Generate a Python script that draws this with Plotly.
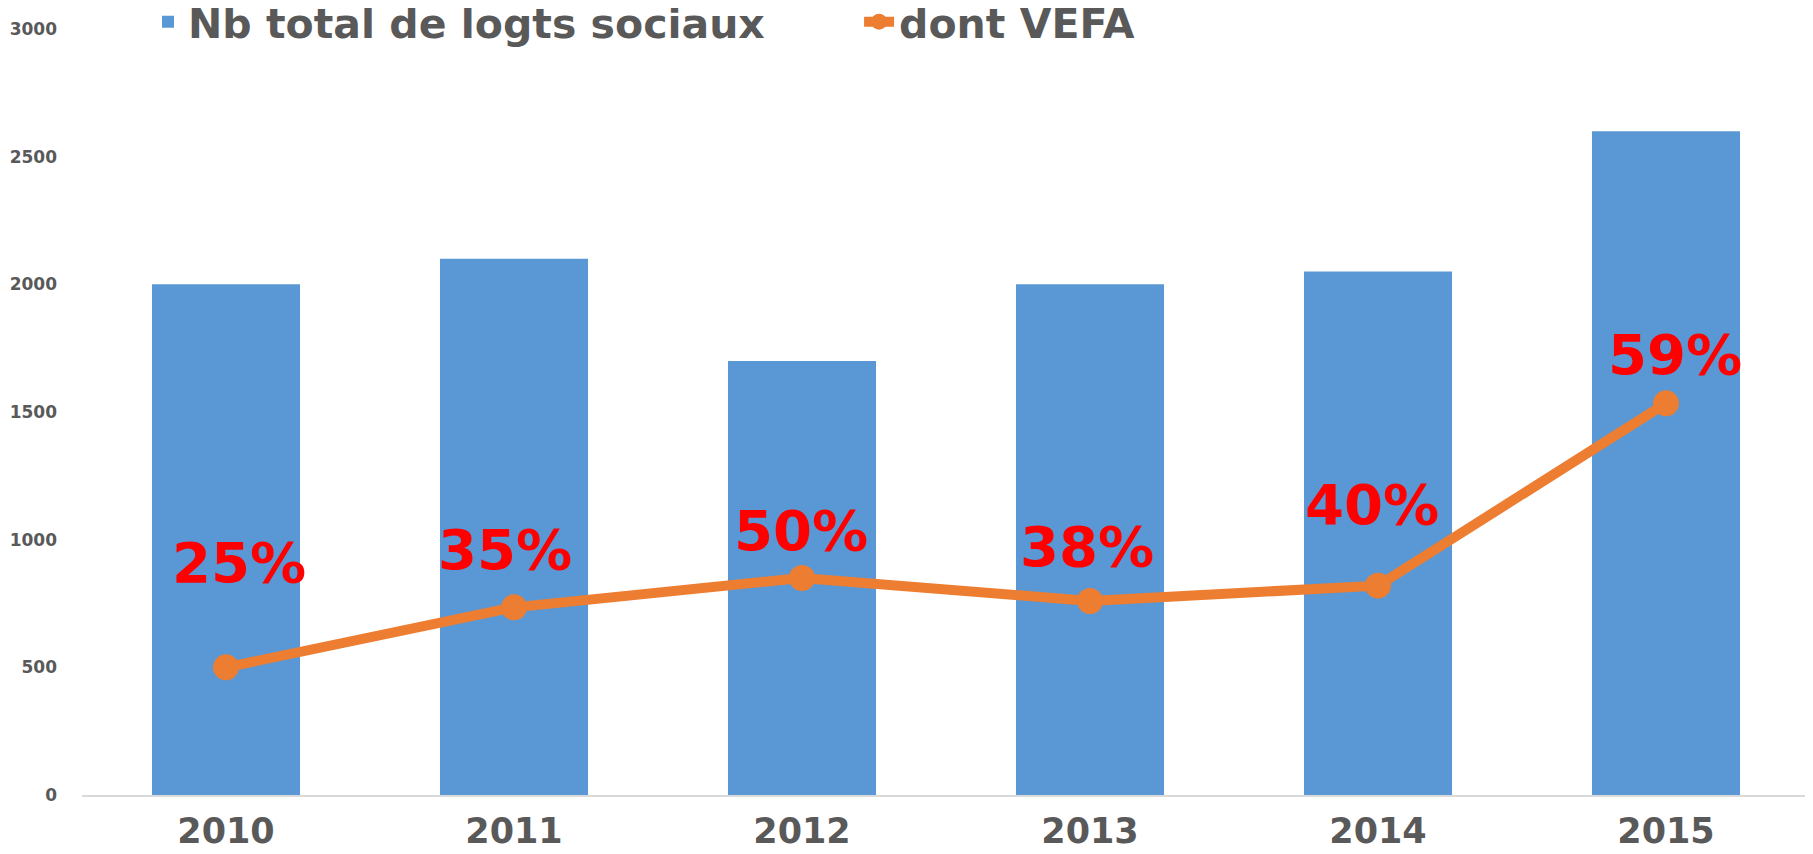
import plotly.graph_objects as go

years = ["2010", "2011", "2012", "2013", "2014", "2015"]
total_logements = [2000, 2100, 1700, 2000, 2050, 2600]
vefa = [500, 735, 850, 760, 820, 1534]
vefa_pct = [25, 35, 50, 38, 40, 59]
y_ticks = [0, 500, 1000, 1500, 2000, 2500, 3000]

# label offsets in px above each point (style/position only)
label_shift = [105, 58, 47, 54, 81, 49]
label_xshift = [13, -9, -1, -3, -6, 9]

FONT = "DejaVu Sans"
GRAY = "#595959"

fig = go.Figure()
fig.add_trace(go.Bar(
    x=years, y=total_logements, name="Nb total de logts sociaux",
    marker=dict(color="#5A98D5", line=dict(width=0)),
    legend="legend",
))
fig.add_trace(go.Scatter(
    x=years, y=vefa, name="dont VEFA", mode="lines+markers",
    line=dict(color="#ED7D31", width=10),
    marker=dict(color="#ED7D31", size=26),
    legend="legend2",
))

for i, (yr, v, p) in enumerate(zip(years, vefa, vefa_pct)):
    fig.add_annotation(
        x=i, y=v, xref="x", yref="y", text=f"{p}%", showarrow=False,
        yshift=label_shift[i], xshift=label_xshift[i],
        font=dict(family=FONT, size=56, color="#FF0000", weight="bold"),
    )

fig.update_layout(
    width=1813, height=854,
    margin=dict(l=74, r=11, t=21, b=67, autoexpand=False),
    paper_bgcolor="white", plot_bgcolor="white",
    bargap=0.486,
    showlegend=True,
    legend=dict(
        orientation="h", x=0.0382, xanchor="left",
        yref="container", y=0.9836, yanchor="middle",
        font=dict(family=FONT, size=41, color=GRAY, weight="bold"),
        bgcolor="rgba(0,0,0,0)", itemwidth=30,
    ),
    legend2=dict(
        orientation="h", x=0.4497, xanchor="left",
        yref="container", y=0.9836, yanchor="middle",
        font=dict(family=FONT, size=41, color=GRAY, weight="bold"),
        bgcolor="rgba(0,0,0,0)", itemwidth=30,
    ),
    xaxis=dict(
        type="category", showgrid=False, showline=True, automargin=False,
        linecolor="#D9D9D9", linewidth=2,
        tickfont=dict(family=FONT, size=35, color=GRAY, weight="bold"),
        ticklabelstandoff=4, tickangle=0,
    ),
    yaxis=dict(
        range=[0, 3000], showgrid=False, zeroline=False, showline=False,
        automargin=False, tickvals=y_ticks,
        tickfont=dict(family=FONT, size=17, color=GRAY, weight="bold"),
        ticklabelstandoff=24,
    ),
)

fig.write_html("out.html")
